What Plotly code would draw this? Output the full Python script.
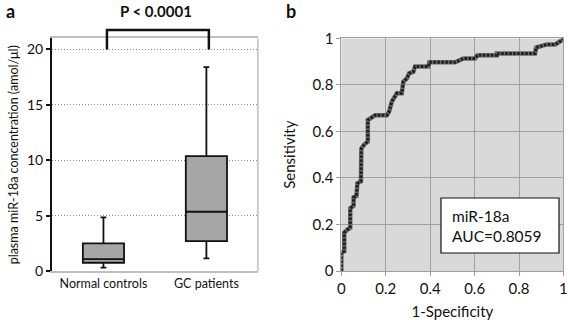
import plotly.graph_objects as go

# ---- Data ----
groups = ["Normal controls", "GC patients"]
lower_fence = [0.3, 1.15]
q1 = [0.75, 2.7]
median = [1.08, 5.35]
q3 = [2.5, 10.38]
upper_fence = [4.85, 18.4]
y_ticks_a = [0, 5, 10, 15, 20]

roc_fpr = [0, 0, 0.013, 0.013, 0.027, 0.04, 0.04, 0.055, 0.055, 0.068, 0.072, 0.088,
           0.09, 0.104, 0.119, 0.119, 0.134, 0.152, 0.205, 0.215, 0.227, 0.242, 0.25,
           0.272, 0.279, 0.295, 0.305, 0.324, 0.332, 0.392, 0.396, 0.512, 0.527, 0.55,
           0.602, 0.613, 0.70, 0.70, 0.872, 0.877, 0.903, 0.925, 0.963, 0.978, 0.993, 1.0]
roc_tpr = [0, 0.08, 0.085, 0.165, 0.178, 0.185, 0.27, 0.28, 0.317, 0.322, 0.377, 0.385,
           0.527, 0.545, 0.556, 0.649, 0.658, 0.67, 0.67, 0.685, 0.728, 0.749, 0.764,
           0.764, 0.814, 0.828, 0.85, 0.857, 0.879, 0.879, 0.897, 0.897, 0.903, 0.914,
           0.914, 0.928, 0.928, 0.935, 0.935, 0.961, 0.968, 0.974, 0.974, 0.981, 0.993, 1.0]
roc_ticks = [0, 0.2, 0.4, 0.6, 0.8, 1]
roc_ticktext = ["0", "0.2", "0.4", "0.6", "0.8", "1"]
auc_label = "miR-18a<br>AUC=0.8059"
p_label = "P < 0.0001"

FONT = "Lato"
fig = go.Figure()

for i, g in enumerate(groups):
    fig.add_trace(go.Box(
        x=[i], q1=[q1[i]], median=[median[i]], q3=[q3[i]],
        lowerfence=[lower_fence[i]], upperfence=[upper_fence[i]],
        width=0.4, whiskerwidth=0.14, fillcolor="#a6a6a6",
        line=dict(color="#111111", width=1.8), boxpoints=False,
        showlegend=False, hoverinfo="skip", xaxis="x", yaxis="y"))

fig.add_trace(go.Scatter(x=roc_fpr, y=roc_tpr, mode="lines",
                         line=dict(color="#6a6a6a", width=4.5),
                         showlegend=False, xaxis="x2", yaxis="y2", hoverinfo="skip"))
fig.add_trace(go.Scatter(x=roc_fpr, y=roc_tpr, mode="lines",
                         line=dict(color="#1e1e1e", width=3, dash="2.5px,1.5px"),
                         showlegend=False, xaxis="x2", yaxis="y2", hoverinfo="skip"))

fig.update_layout(
    width=568, height=320, margin=dict(l=0, r=0, t=0, b=0, autoexpand=False),
    paper_bgcolor="white", plot_bgcolor="white",
    font=dict(family=FONT, color="#111111"),
    xaxis=dict(domain=[0.0915, 0.454], range=[-0.5, 1.5], tickvals=[0, 1],
               ticktext=groups, showgrid=False, zeroline=False, ticks="",
               showline=True, linecolor="#bfbfbf", linewidth=1.5, mirror=True,
               tickfont=dict(size=12.5, family=FONT), automargin=False),
    yaxis=dict(domain=[0.153, 0.880], range=[0, 21], tickvals=y_ticks_a,
               showgrid=True, gridcolor="#8a8a8a", griddash="1px,2px", gridwidth=1,
               zeroline=False, showline=True, linecolor="#111111", linewidth=2,
               ticks="outside", ticklen=4, tickwidth=2, tickcolor="#111111",
               tickfont=dict(size=14, family=FONT), automargin=False,
               title=dict(text="plasma miR-18a concentration (amol/μl)",
                          font=dict(size=12.5, family=FONT), standoff=6)),
    xaxis2=dict(domain=[0.601, 0.992], range=[0, 1], tickvals=roc_ticks,
                ticktext=roc_ticktext, showgrid=True, gridcolor="#a0a0a0",
                gridwidth=1, zeroline=False, showline=True, linecolor="#a0a0a0",
                linewidth=1, mirror=True, ticks="outside", ticklen=4,
                tickcolor="#a0a0a0", tickfont=dict(size=15, family=FONT),
                automargin=False,
                title=dict(text="1-Specificity", font=dict(size=15, family=FONT),
                           standoff=11), anchor="y2"),
    yaxis2=dict(domain=[0.153, 0.880], range=[0, 1], tickvals=roc_ticks,
                ticktext=roc_ticktext, showgrid=True, gridcolor="#a0a0a0",
                gridwidth=1, zeroline=False, showline=True, linecolor="#a0a0a0",
                linewidth=1, mirror=True, ticks="outside", ticklen=4,
                tickcolor="#a0a0a0", tickfont=dict(size=15, family=FONT),
                automargin=False,
                title=dict(text="Sensitivity", font=dict(size=15, family=FONT),
                           standoff=13), anchor="x2"),
)

# grey background of ROC plot
fig.add_shape(type="rect", xref="x2 domain", yref="y2 domain", x0=0, x1=1, y0=0, y1=1,
              fillcolor="#d9d9d9", line=dict(width=0), layer="below")
# right border of panel a
fig.add_shape(type="line", xref="x domain", yref="y domain", x0=1, x1=1, y0=0, y1=1,
              line=dict(color="#bfbfbf", width=1.5))
# significance bracket
fig.add_shape(type="path", xref="x domain", yref="y domain",
              path="M 0.267 0.952 L 0.267 1.036 L 0.762 1.036 L 0.762 0.952",
              line=dict(color="#111111", width=2.5))

fig.add_annotation(text="<b>" + p_label + "</b>", xref="paper", yref="paper",
                   x=156 / 568, y=1 - 11 / 320, xanchor="center", yanchor="middle",
                   showarrow=False, font=dict(size=15, family=FONT))
fig.add_annotation(text="<b>a</b>", xref="paper", yref="paper", x=10 / 568,
                   y=1 - 11 / 320, xanchor="center", yanchor="middle",
                   showarrow=False, font=dict(size=18, family=FONT))
fig.add_annotation(text="<b>b</b>", xref="paper", yref="paper", x=291 / 568,
                   y=1 - 11 / 320, xanchor="center", yanchor="middle",
                   showarrow=False, font=dict(size=18, family=FONT))
fig.add_shape(type="rect", xref="paper", yref="paper", x0=441 / 568, x1=559 / 568,
              y0=1 - 253 / 320, y1=1 - 198 / 320, fillcolor="white",
              line=dict(color="#111111", width=1.2))
fig.add_annotation(text=auc_label, xref="paper", yref="paper", x=450 / 568,
                   y=1 - 225.5 / 320, xanchor="left", yanchor="middle", align="left",
                   showarrow=False, font=dict(size=15.5, family=FONT))

fig.write_html("out.html", config={"displayModeBar": False},
               post_script="document.body.style.margin='0';document.body.style.overflow='hidden';")
